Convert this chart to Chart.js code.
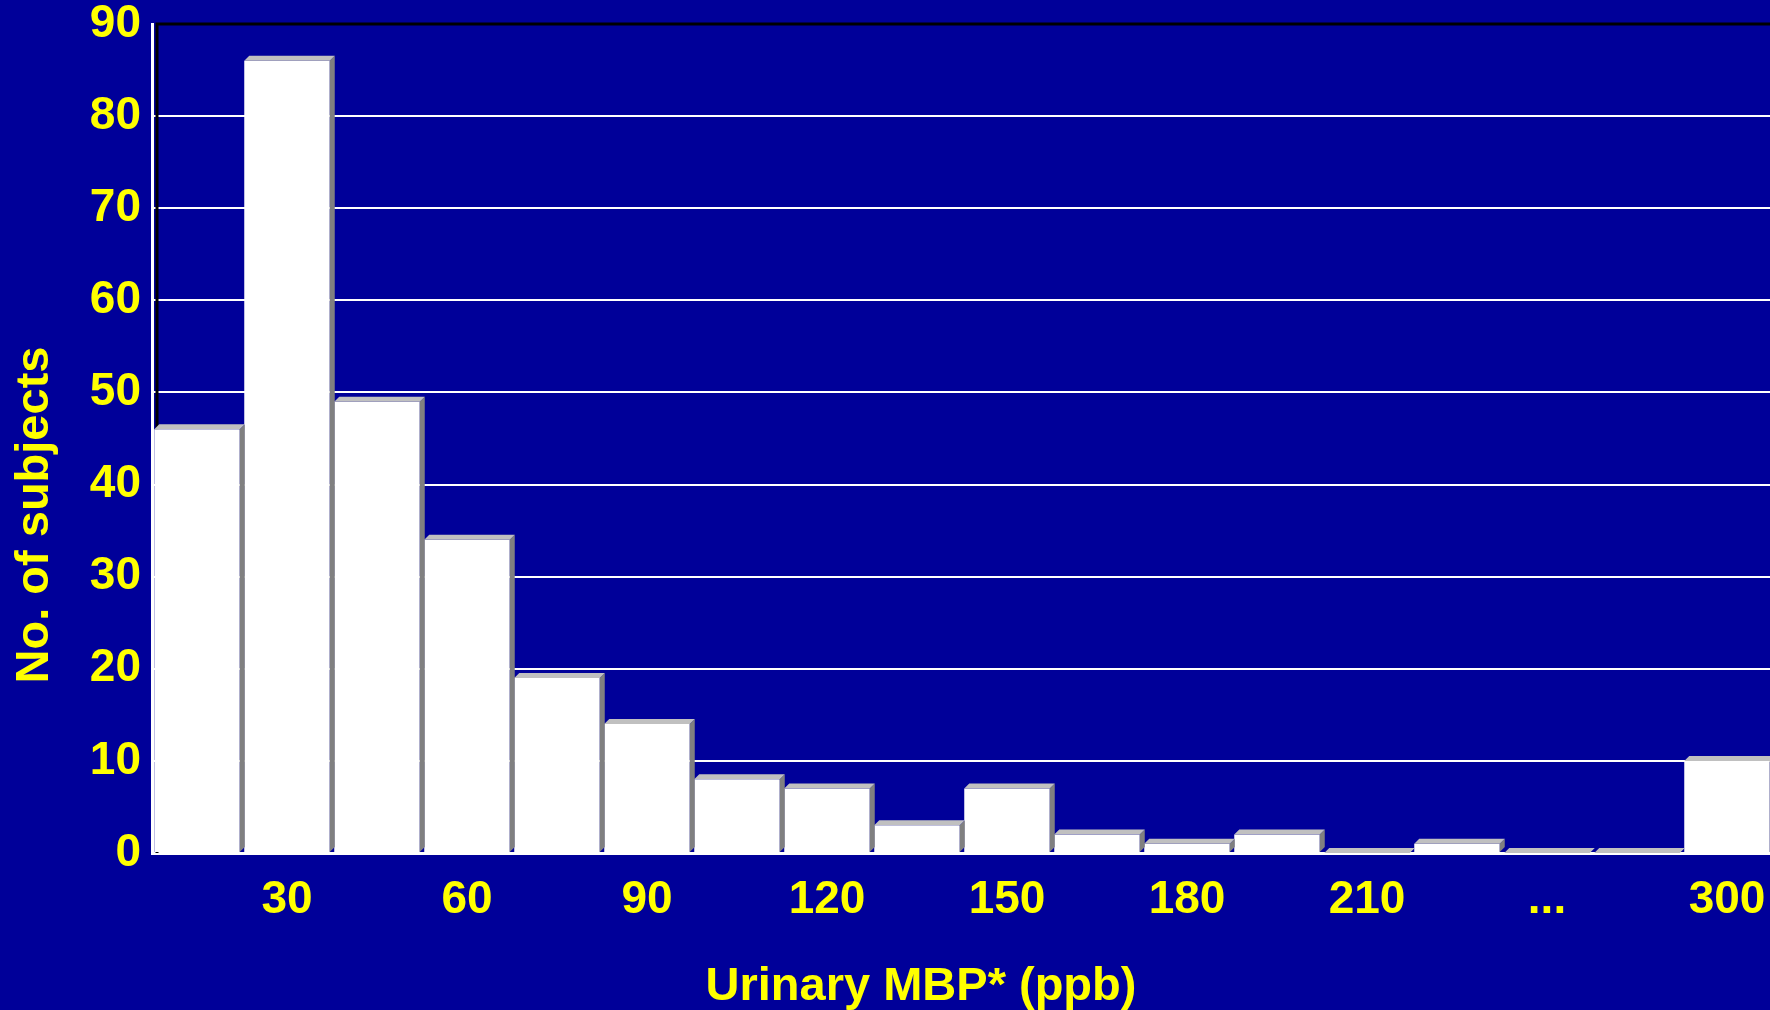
<!DOCTYPE html>
<html>
<head>
<meta charset="utf-8">
<script src="https://cdn.jsdelivr.net/npm/chart.js@4"></script>
<style>
    html, body {
        margin: 0;
        padding: 0;
        background: #000099;
        overflow: hidden;
    }
    #wrap {
        width: 1780px;
        height: 1010px;
        position: relative;
    }
</style>
</head>
<body>
<div id="wrap"><canvas id="myChart"></canvas></div>
<script>
const binLabels = ["", "30", "", "60", "", "90", "", "120", "", "150", "", "180", "", "210", "", "...", "", "300"]
const subjects = [46, 86, 49, 34, 19, 14, 8, 7, 3, 7, 2, 1, 2, 0, 1, 0, 0, 10]
const yTicks = [0, 10, 20, 30, 40, 50, 60, 70, 80, 90]

const yellow = "#ffff00"
const narrowFont = "'Liberation Sans Narrow', 'Arial Narrow', 'Liberation Sans', Arial, sans-serif"
const wideFont = "'Liberation Sans', Arial, sans-serif"
const depth = 5

// fake the old 3D look: grey top and right side on each bar
const bars3d = {
    id: "bars3d",
    beforeDatasetsDraw: (chart) => {
        const { ctx, chartArea } = chart
        ctx.save()
        ctx.strokeStyle = "#000000"
        ctx.lineWidth = 3
        ctx.beginPath()
        ctx.moveTo(chartArea.left + depth, chartArea.bottom)
        ctx.lineTo(chartArea.left + depth, chartArea.top)
        ctx.lineTo(chartArea.right + 20, chartArea.top)
        ctx.stroke()
        ctx.restore()
    },
    afterDatasetsDraw: (chart) => {
        const { ctx } = chart
        const meta = chart.getDatasetMeta(0)
        ctx.save()
        meta.data.forEach(bar => {
            const { x, y, base, width } = bar.getProps(["x", "y", "base", "width"], true)
            const left = x - width / 2
            const right = x + width / 2
            ctx.fillStyle = "#808080"
            ctx.beginPath()
            ctx.moveTo(right, y)
            ctx.lineTo(right + depth, y - depth)
            ctx.lineTo(right + depth, base - depth)
            ctx.lineTo(right, base)
            ctx.closePath()
            ctx.fill()
            ctx.fillStyle = "#c0c0c0"
            ctx.beginPath()
            ctx.moveTo(left, y)
            ctx.lineTo(left + depth, y - depth)
            ctx.lineTo(right + depth, y - depth)
            ctx.lineTo(right, y)
            ctx.closePath()
            ctx.fill()
        })
        ctx.restore()
    },
    afterDraw: (chart) => {
        const { ctx } = chart
        ctx.save()
        ctx.fillStyle = yellow
        ctx.font = "bold 47px " + wideFont
        ctx.textAlign = "center"
        ctx.textBaseline = "alphabetic"
        ctx.fillText("Urinary MBP* (ppb)", 921, 1000)
        ctx.translate(48, 515)
        ctx.rotate(-Math.PI / 2)
        ctx.fillText("No. of subjects", 0, 0)
        ctx.restore()
    }
}

const config = {
    type: "bar",
    data: {
        labels: binLabels,
        datasets: [{
            data: subjects,
            backgroundColor: "#ffffff",
            borderWidth: 0,
            barPercentage: 0.95,
            categoryPercentage: 1
        }]
    },
    options: {
        responsive: true,
        maintainAspectRatio: false,
        animation: false,
        layout: {
            padding: { top: 24, right: 8, left: 0, bottom: 0 }
        },
        plugins: {
            legend: { display: false },
            tooltip: { enabled: false }
        },
        scales: {
            x: {
                grid: { display: false },
                border: { display: true, color: "#ffffff", width: 3 },
                ticks: {
                    color: yellow,
                    font: { family: narrowFont, size: 46, weight: "bold" },
                    autoSkip: false,
                    maxRotation: 0,
                    padding: 12
                },
                afterFit: (scale) => {
                    scale.height = 157
                    scale.paddingLeft = 0
                    scale.paddingRight = 0
                }
            },
            y: {
                min: 0,
                max: 90,
                afterBuildTicks: (scale) => {
                    scale.ticks = yTicks.map(v => ({ value: v }))
                },
                grid: {
                    color: (c) => c.tick && c.tick.value === 90 ? "rgba(0,0,0,0)" : "#ffffff",
                    lineWidth: 2,
                    drawTicks: false
                },
                border: { display: true, color: "#ffffff", width: 3 },
                ticks: {
                    color: yellow,
                    font: { family: narrowFont, size: 46, weight: "bold" },
                    padding: 11
                },
                afterFit: (scale) => {
                    scale.width = 152
                    scale.paddingTop = 0
                    scale.paddingBottom = 0
                }
            }
        }
    },
    plugins: [bars3d]
}

new Chart(document.querySelector("#myChart"), config)
</script>
</body>
</html>
